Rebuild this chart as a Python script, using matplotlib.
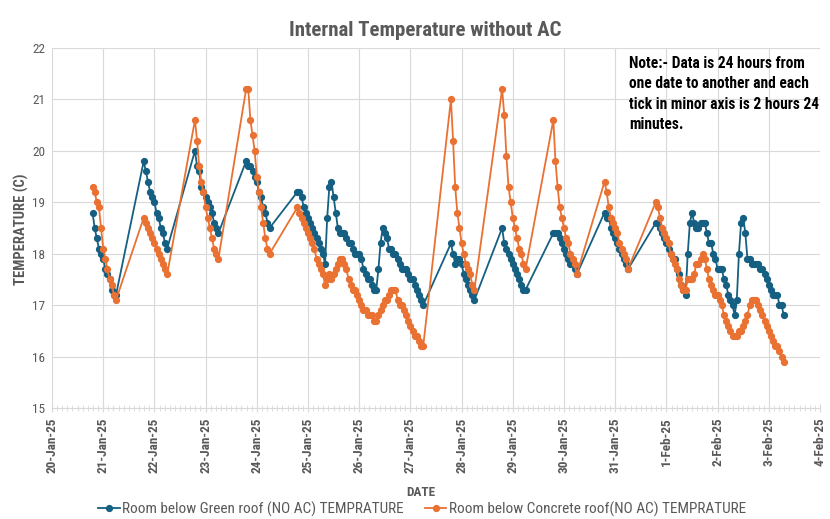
import matplotlib
matplotlib.use('Agg')
import matplotlib.pyplot as plt
import matplotlib.dates as mdates
from matplotlib.ticker import MultipleLocator
from matplotlib.lines import Line2D
from matplotlib import font_manager
import pandas as pd

# ---------------- data (hourly readings, one list per logging run) ----------------
segment_starts = ['2025-01-20 19:00', '2025-01-21 19:00', '2025-01-22 19:00',
                  '2025-01-23 19:00', '2025-01-24 19:00', '2025-01-27 19:00',
                  '2025-01-28 19:00', '2025-01-29 19:00', '2025-01-30 19:00',
                  '2025-01-31 19:00']

green_s1 = [18.8, 18.5, 18.3, 18.1, 18.0, 17.9, 17.7, 17.6, 17.5, 17.3, 17.2, 17.2]
green_s2 = [19.8, 19.6, 19.4, 19.2, 19.1, 19.0, 18.8, 18.7, 18.5, 18.4, 18.2, 18.1]
green_s3 = [20.0, 19.7, 19.6, 19.3, 19.2, 19.1, 19.0, 18.9, 18.8, 18.6, 18.5, 18.4]
green_s4 = [19.8, 19.7, 19.7, 19.6, 19.5, 19.4, 19.2, 19.1, 18.9, 18.8, 18.6, 18.5]
green_s5 = [19.2, 19.2, 19.1, 18.9, 18.8, 18.7, 18.6, 18.5, 18.4, 18.3, 18.2, 18.1,
            18.0, 17.8, 18.7, 19.3, 19.4, 19.1, 18.8, 18.5, 18.4, 18.4, 18.4, 18.3,
            18.2, 18.2, 18.1, 18.0, 18.0, 18.0, 17.9, 17.7, 17.6, 17.5, 17.5, 17.4,
            17.3, 17.3, 17.7, 18.2, 18.5, 18.4, 18.3, 18.1, 18.1, 18.0, 18.0, 17.9,
            17.8, 17.7, 17.7, 17.7, 17.6, 17.5, 17.5, 17.4, 17.3, 17.2, 17.1, 17.0]
green_s6 = [18.2, 18.0, 17.8, 17.9, 17.9, 17.8, 17.6, 17.5, 17.4, 17.3, 17.2, 17.1]
green_s7 = [18.5, 18.2, 18.1, 18.0, 17.9, 17.8, 17.7, 17.6, 17.5, 17.4, 17.3, 17.3]
green_s8 = [18.4, 18.4, 18.4, 18.3, 18.2, 18.1, 18.0, 17.9, 17.8, 17.8, 17.7, 17.6]
green_s9 = [18.8, 18.7, 18.7, 18.5, 18.4, 18.3, 18.2, 18.1, 18.0, 17.9, 17.8, 17.7]
green_s10 = [18.6, 18.6, 18.5, 18.4, 18.3, 18.2, 18.1, 18.0, 17.9, 17.9, 17.7, 17.6,
             17.4, 17.3, 17.2, 18.0, 18.6, 18.8, 18.6, 18.5, 18.5, 18.6, 18.6, 18.6,
             18.4, 18.2, 18.2, 18.0, 17.9, 17.7, 17.7, 17.7, 17.5, 17.4, 17.2, 17.1,
             17.0, 16.8, 17.1, 18.0, 18.6, 18.7, 18.4, 17.9, 17.9, 17.8, 17.8, 17.8,
             17.8, 17.7, 17.7, 17.6, 17.5, 17.4, 17.3, 17.2, 17.2, 17.2, 17.0, 17.0,
             16.8]

concrete_s1 = [19.3, 19.2, 19.0, 18.9, 18.5, 18.1, 17.9, 17.7, 17.5, 17.4, 17.2, 17.1]
concrete_s2 = [18.7, 18.6, 18.5, 18.4, 18.3, 18.2, 18.1, 18.0, 17.9, 17.8, 17.7, 17.6]
concrete_s3 = [20.6, 20.2, 19.7, 19.4, 19.2, 18.9, 18.7, 18.5, 18.3, 18.1, 18.0, 17.9]
concrete_s4 = [21.2, 21.2, 20.6, 20.3, 20.0, 19.5, 19.2, 18.9, 18.6, 18.3, 18.1, 18.0]
concrete_s5 = [18.9, 18.8, 18.7, 18.6, 18.5, 18.4, 18.3, 18.2, 18.1, 17.9, 17.8, 17.7,
               17.6, 17.4, 17.5, 17.6, 17.5, 17.6, 17.7, 17.8, 17.9, 17.9, 17.8, 17.7,
               17.5, 17.4, 17.3, 17.3, 17.2, 17.1, 17.0, 16.9, 16.9, 16.8, 16.8, 16.8,
               16.7, 16.7, 16.8, 16.9, 17.0, 17.1, 17.1, 17.2, 17.3, 17.3, 17.3, 17.1,
               17.0, 17.0, 16.9, 16.8, 16.7, 16.6, 16.5, 16.4, 16.4, 16.3, 16.2, 16.2]
concrete_s6 = [21.0, 20.2, 19.3, 18.8, 18.5, 18.2, 18.0, 17.8, 17.7, 17.6, 17.4, 17.3]
concrete_s7 = [21.2, 20.7, 19.9, 19.3, 19.0, 18.7, 18.5, 18.3, 18.1, 18.0, 17.8, 17.7]
concrete_s8 = [20.6, 19.8, 19.3, 18.9, 18.7, 18.5, 18.3, 18.2, 18.0, 17.9, 17.8, 17.6]
concrete_s9 = [19.4, 19.2, 18.9, 18.7, 18.6, 18.5, 18.4, 18.2, 18.1, 18.0, 17.9, 17.7]
concrete_s10 = [19.0, 18.9, 18.7, 18.5, 18.4, 18.3, 18.2, 18.0, 17.9, 17.8, 17.7, 17.5,
                17.4, 17.3, 17.3, 17.5, 17.5, 17.5, 17.6, 17.8, 17.8, 17.9, 18.0, 17.9,
                17.7, 17.5, 17.4, 17.3, 17.2, 17.2, 17.1, 17.0, 16.8, 16.7, 16.6, 16.5,
                16.4, 16.4, 16.4, 16.5, 16.5, 16.6, 16.7, 16.8, 17.0, 17.1, 17.1, 17.1,
                17.0, 16.9, 16.8, 16.7, 16.6, 16.5, 16.4, 16.3, 16.2, 16.2, 16.1, 16.0,
                15.9]

green_segments = [green_s1, green_s2, green_s3, green_s4, green_s5,
                  green_s6, green_s7, green_s8, green_s9, green_s10]
concrete_segments = [concrete_s1, concrete_s2, concrete_s3, concrete_s4, concrete_s5,
                     concrete_s6, concrete_s7, concrete_s8, concrete_s9, concrete_s10]

green_label = 'Room below Green roof (NO AC) TEMPRATURE'
concrete_label = 'Room below Concrete roof(NO AC) TEMPRATURE'
title_text = 'Internal Temperature without AC'
note_text = ('Note:- Data is 24 hours from\none date to another and each\n'
             'tick in minor axis is 2 hours 24\nminutes.')


def build(segments):
    times, vals = [], []
    for start, seg in zip(segment_starts, segments):
        times.extend(pd.date_range(start, periods=len(seg), freq='h'))
        vals.extend(seg)
    return times, vals


g_t, g_v = build(green_segments)
c_t, c_v = build(concrete_segments)

# ---------------- fonts: prefer a narrow face ----------------
avail = {f.name for f in font_manager.fontManager.ttflist}
cands = ['Roboto Condensed', 'Liberation Sans Narrow', 'DejaVu Sans Condensed',
         'Open Sans Condensed', 'Noto Sans Condensed']
chosen = next((c for c in cands if c in avail), None)
if chosen:
    plt.rcParams['font.family'] = [chosen, 'DejaVu Sans']
else:
    plt.rcParams['font.family'] = ['DejaVu Sans']
    plt.rcParams['font.stretch'] = 'condensed'

BLUE = '#156082'
ORANGE = '#E97132'
GREY = '#595959'
GRID = '#d9d9d9'

fig = plt.figure(figsize=(8.3, 5.19), dpi=100)
ax = fig.add_axes([52 / 830, 1 - 408 / 519, (820 - 52) / 830, (408 - 48) / 519])

ax.plot(g_t, g_v, color=BLUE, lw=1.3, marker='o', ms=4.2, label=green_label, zorder=3)
ax.plot(c_t, c_v, color=ORANGE, lw=1.3, marker='o', ms=4.2, label=concrete_label, zorder=4)

ax.set_xlim(mdates.date2num(pd.Timestamp('2025-01-20')),
            mdates.date2num(pd.Timestamp('2025-02-04')))
ax.set_ylim(15, 22)
ax.yaxis.set_major_locator(MultipleLocator(1))
ax.xaxis.set_major_locator(mdates.DayLocator())
ax.xaxis.set_major_formatter(mdates.DateFormatter('%-d-%b-%y'))
ax.xaxis.set_minor_locator(MultipleLocator(0.1))

ax.grid(True, which='major', color=GRID, lw=0.8)
ax.set_axisbelow(True)
for s in ['top', 'right', 'left']:
    ax.spines[s].set_visible(False)
ax.spines['bottom'].set_color(GRID)
ax.spines['bottom'].set_linewidth(0.8)

ax.tick_params(axis='y', length=0, labelsize=9.5, labelcolor=GREY, pad=5)
ax.tick_params(axis='x', which='major', direction='inout', length=6, color=GRID,
               labelsize=9.5, labelcolor=GREY, labelrotation=90, pad=4)
ax.tick_params(axis='x', which='minor', direction='inout', length=5, color=GRID)
for lab in ax.get_xticklabels():
    lab.set_fontweight('bold')

fig.text(0.512, 1 - 30 / 519, title_text, ha='center', va='center',
         fontsize=15, fontweight='bold', color=GREY)
fig.text(21 / 830, 1 - 229 / 519, 'TEMPERATURE (C)', rotation=90, ha='center',
         va='center', fontsize=10.5, fontweight='bold', color=GREY)
fig.text(0.507, 1 - 492 / 519, 'DATE', ha='center', va='center',
         fontsize=9.5, fontweight='bold', color=GREY)
fig.text(629 / 830, 1 - 56 / 519, note_text, ha='left', va='top',
         fontsize=11.2, fontweight='bold', color='black', linespacing=1.45)

handles = [Line2D([], [], color=BLUE, lw=1.3, marker='o', ms=4.2),
           Line2D([], [], color=ORANGE, lw=1.3, marker='o', ms=4.2)]
leg = fig.legend(handles, [green_label, concrete_label], loc='center',
                 bbox_to_anchor=(422 / 830, 1 - 509 / 519), ncol=2, frameon=False,
                 fontsize=11, handlelength=1.4, handletextpad=0.15,
                 columnspacing=1.4)
for t in leg.get_texts():
    t.set_color(GREY)

fig.savefig('out.png', dpi=100)
